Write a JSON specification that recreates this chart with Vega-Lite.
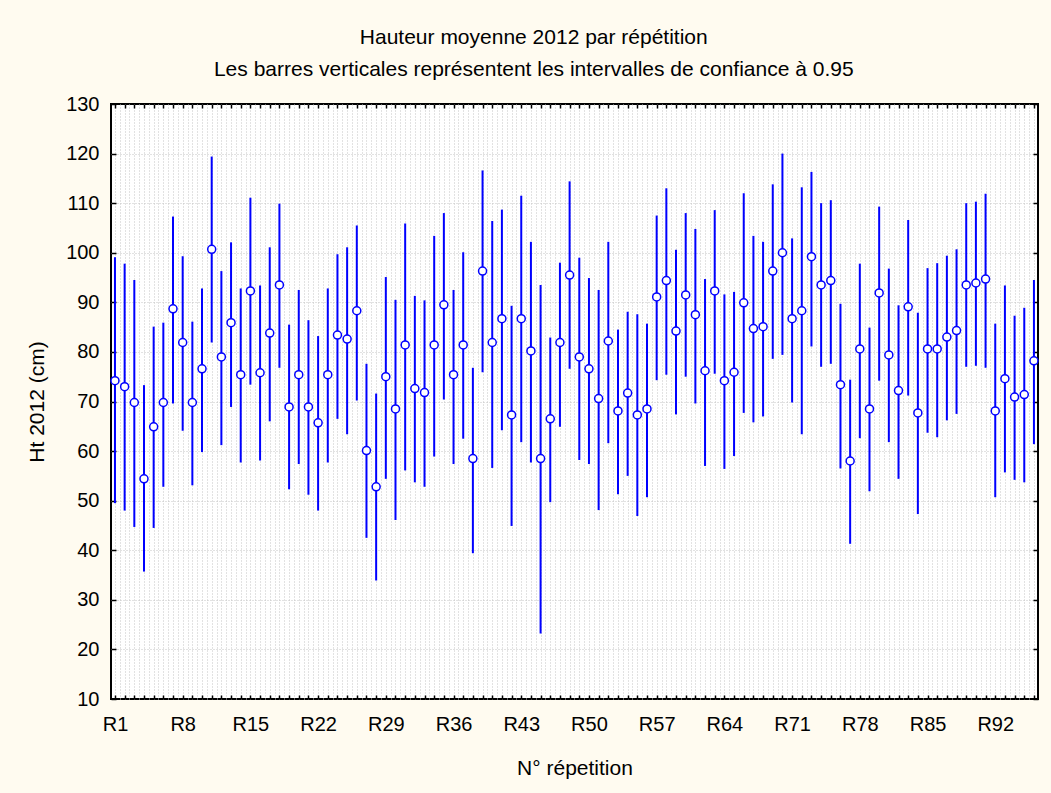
{
  "$schema": "https://vega.github.io/schema/vega-lite/v6.json",
  "width": 927,
  "height": 595,
  "autosize": "none",
  "padding": {"left": 111, "top": 104, "right": 13, "bottom": 94},
  "background": "#fffbf0",
  "title": {
    "text": ["Hauteur moyenne 2012 par répétition", "Les barres verticales représentent les intervalles de confiance à 0.95"],
    "fontSize": 21,
    "fontWeight": "normal",
    "color": "#000000",
    "lineHeight": 32,
    "anchor": "middle",
    "frame": "bounds",
    "offset": 14
  },
  "config": {
    "font": "Liberation Sans",
    "view": {"fill": "white", "stroke": "black", "strokeWidth": 2}
  },
  "data": {
    "values": [
      {"rep": "R1", "i": 1, "m": 74.2, "lo": 49.5, "hi": 99.1},
      {"rep": "R2", "i": 2, "m": 73.0, "lo": 48.0, "hi": 97.8},
      {"rep": "R3", "i": 3, "m": 69.8, "lo": 44.7, "hi": 94.5},
      {"rep": "R4", "i": 4, "m": 54.4, "lo": 35.7, "hi": 73.3},
      {"rep": "R5", "i": 5, "m": 64.9, "lo": 44.5, "hi": 85.1},
      {"rep": "R6", "i": 6, "m": 69.8, "lo": 52.8, "hi": 85.9},
      {"rep": "R7", "i": 7, "m": 88.7, "lo": 69.6, "hi": 107.3},
      {"rep": "R8", "i": 8, "m": 81.9, "lo": 64.1, "hi": 99.3},
      {"rep": "R9", "i": 9, "m": 69.8, "lo": 53.1, "hi": 86.1},
      {"rep": "R10", "i": 10, "m": 76.6, "lo": 59.8, "hi": 92.8},
      {"rep": "R11", "i": 11, "m": 100.7, "lo": 81.9, "hi": 119.4},
      {"rep": "R12", "i": 12, "m": 79.0, "lo": 61.2, "hi": 96.3},
      {"rep": "R13", "i": 13, "m": 85.9, "lo": 68.9, "hi": 102.1},
      {"rep": "R14", "i": 14, "m": 75.4, "lo": 57.7, "hi": 92.8},
      {"rep": "R15", "i": 15, "m": 92.3, "lo": 73.4, "hi": 111.1},
      {"rep": "R16", "i": 16, "m": 75.8, "lo": 58.1, "hi": 93.4},
      {"rep": "R17", "i": 17, "m": 83.8, "lo": 66.0, "hi": 101.1},
      {"rep": "R18", "i": 18, "m": 93.5, "lo": 76.8, "hi": 109.9},
      {"rep": "R19", "i": 19, "m": 68.9, "lo": 52.3, "hi": 85.5},
      {"rep": "R20", "i": 20, "m": 75.4, "lo": 57.4, "hi": 92.5},
      {"rep": "R21", "i": 21, "m": 68.9, "lo": 51.2, "hi": 86.4},
      {"rep": "R22", "i": 22, "m": 65.7, "lo": 48.0, "hi": 83.2},
      {"rep": "R23", "i": 23, "m": 75.4, "lo": 57.7, "hi": 92.8},
      {"rep": "R24", "i": 24, "m": 83.4, "lo": 66.5, "hi": 99.7},
      {"rep": "R25", "i": 25, "m": 82.6, "lo": 63.4, "hi": 101.1},
      {"rep": "R26", "i": 26, "m": 88.3, "lo": 70.2, "hi": 105.5},
      {"rep": "R27", "i": 27, "m": 60.1, "lo": 42.5, "hi": 77.6},
      {"rep": "R28", "i": 28, "m": 52.8, "lo": 33.9, "hi": 71.6},
      {"rep": "R29", "i": 29, "m": 75.0, "lo": 54.4, "hi": 95.1},
      {"rep": "R30", "i": 30, "m": 68.5, "lo": 46.1, "hi": 90.5},
      {"rep": "R31", "i": 31, "m": 81.4, "lo": 56.1, "hi": 105.9},
      {"rep": "R32", "i": 32, "m": 72.6, "lo": 53.7, "hi": 91.3},
      {"rep": "R33", "i": 33, "m": 71.8, "lo": 52.8, "hi": 90.4},
      {"rep": "R34", "i": 34, "m": 81.4, "lo": 58.9, "hi": 103.4},
      {"rep": "R35", "i": 35, "m": 89.5, "lo": 70.4, "hi": 108.0},
      {"rep": "R36", "i": 36, "m": 75.4, "lo": 57.4, "hi": 92.5},
      {"rep": "R37", "i": 37, "m": 81.4, "lo": 62.5, "hi": 100.1},
      {"rep": "R38", "i": 38, "m": 58.5, "lo": 39.4, "hi": 76.8},
      {"rep": "R39", "i": 39, "m": 96.3, "lo": 75.9, "hi": 116.6},
      {"rep": "R40", "i": 40, "m": 81.9, "lo": 56.6, "hi": 106.4},
      {"rep": "R41", "i": 41, "m": 86.7, "lo": 64.2, "hi": 108.7},
      {"rep": "R42", "i": 42, "m": 67.3, "lo": 44.9, "hi": 89.3},
      {"rep": "R43", "i": 43, "m": 86.7, "lo": 61.8, "hi": 111.5},
      {"rep": "R44", "i": 44, "m": 80.2, "lo": 57.7, "hi": 102.2},
      {"rep": "R45", "i": 45, "m": 58.5, "lo": 23.2, "hi": 93.5},
      {"rep": "R46", "i": 46, "m": 66.5, "lo": 49.7, "hi": 82.9},
      {"rep": "R47", "i": 47, "m": 81.9, "lo": 64.9, "hi": 98.0},
      {"rep": "R48", "i": 48, "m": 95.5, "lo": 76.6, "hi": 114.4},
      {"rep": "R49", "i": 49, "m": 79.0, "lo": 58.2, "hi": 99.0},
      {"rep": "R50", "i": 50, "m": 76.6, "lo": 57.4, "hi": 94.9},
      {"rep": "R51", "i": 51, "m": 70.6, "lo": 48.1, "hi": 92.5},
      {"rep": "R52", "i": 52, "m": 82.2, "lo": 61.6, "hi": 102.2},
      {"rep": "R53", "i": 53, "m": 68.1, "lo": 51.3, "hi": 84.5},
      {"rep": "R54", "i": 54, "m": 71.7, "lo": 55.0, "hi": 88.1},
      {"rep": "R55", "i": 55, "m": 67.3, "lo": 46.9, "hi": 87.6},
      {"rep": "R56", "i": 56, "m": 68.5, "lo": 50.7, "hi": 85.7},
      {"rep": "R57", "i": 57, "m": 91.1, "lo": 74.3, "hi": 107.5},
      {"rep": "R58", "i": 58, "m": 94.4, "lo": 75.4, "hi": 113.0},
      {"rep": "R59", "i": 59, "m": 84.2, "lo": 67.4, "hi": 100.6},
      {"rep": "R60", "i": 60, "m": 91.5, "lo": 75.0, "hi": 108.0},
      {"rep": "R61", "i": 61, "m": 87.5, "lo": 69.6, "hi": 104.8},
      {"rep": "R62", "i": 62, "m": 76.2, "lo": 57.0, "hi": 94.7},
      {"rep": "R63", "i": 63, "m": 92.3, "lo": 75.6, "hi": 108.6},
      {"rep": "R64", "i": 64, "m": 74.2, "lo": 56.4, "hi": 91.6},
      {"rep": "R65", "i": 65, "m": 75.9, "lo": 59.0, "hi": 92.1},
      {"rep": "R66", "i": 66, "m": 89.9, "lo": 67.7, "hi": 112.0},
      {"rep": "R67", "i": 67, "m": 84.7, "lo": 65.8, "hi": 103.4},
      {"rep": "R68", "i": 68, "m": 85.1, "lo": 67.0, "hi": 102.2},
      {"rep": "R69", "i": 69, "m": 96.3, "lo": 78.6, "hi": 113.8},
      {"rep": "R70", "i": 70, "m": 100.0, "lo": 79.4, "hi": 120.0},
      {"rep": "R71", "i": 71, "m": 86.7, "lo": 69.8, "hi": 102.9},
      {"rep": "R72", "i": 72, "m": 88.3, "lo": 63.4, "hi": 113.2},
      {"rep": "R73", "i": 73, "m": 99.2, "lo": 81.1, "hi": 116.3},
      {"rep": "R74", "i": 74, "m": 93.5, "lo": 77.0, "hi": 110.0},
      {"rep": "R75", "i": 75, "m": 94.4, "lo": 77.6, "hi": 110.6},
      {"rep": "R76", "i": 76, "m": 73.4, "lo": 56.5, "hi": 89.7},
      {"rep": "R77", "i": 77, "m": 58.0, "lo": 41.3, "hi": 74.4},
      {"rep": "R78", "i": 78, "m": 80.6, "lo": 62.6, "hi": 97.8},
      {"rep": "R79", "i": 79, "m": 68.5, "lo": 51.9, "hi": 84.9},
      {"rep": "R80", "i": 80, "m": 91.9, "lo": 74.2, "hi": 109.3},
      {"rep": "R81", "i": 81, "m": 79.4, "lo": 61.8, "hi": 96.8},
      {"rep": "R82", "i": 82, "m": 72.2, "lo": 54.4, "hi": 89.4},
      {"rep": "R83", "i": 83, "m": 89.1, "lo": 71.2, "hi": 106.6},
      {"rep": "R84", "i": 84, "m": 67.7, "lo": 47.3, "hi": 87.9},
      {"rep": "R85", "i": 85, "m": 80.6, "lo": 63.7, "hi": 96.9},
      {"rep": "R86", "i": 86, "m": 80.6, "lo": 62.8, "hi": 97.9},
      {"rep": "R87", "i": 87, "m": 83.0, "lo": 66.2, "hi": 99.4},
      {"rep": "R88", "i": 88, "m": 84.3, "lo": 67.5, "hi": 100.7},
      {"rep": "R89", "i": 89, "m": 93.5, "lo": 77.0, "hi": 110.0},
      {"rep": "R90", "i": 90, "m": 93.9, "lo": 77.2, "hi": 110.3},
      {"rep": "R91", "i": 91, "m": 94.7, "lo": 76.8, "hi": 111.9},
      {"rep": "R92", "i": 92, "m": 68.1, "lo": 50.7, "hi": 85.7},
      {"rep": "R93", "i": 93, "m": 74.6, "lo": 55.7, "hi": 93.4},
      {"rep": "R94", "i": 94, "m": 70.9, "lo": 54.2, "hi": 87.3},
      {"rep": "R95", "i": 95, "m": 71.4, "lo": 53.7, "hi": 88.9},
      {"rep": "R96", "i": 96, "m": 78.2, "lo": 61.4, "hi": 94.5}
    ]
  },
  "layer": [
    {
      "mark": {"type": "rule", "color": "#0000ff", "strokeWidth": 2},
      "encoding": {
        "x": {
          "field": "i", "type": "quantitative",
          "scale": {"domain": [0.59, 96.42], "nice": false, "zero": false},
          "axis": {
            "orient": "bottom",
            "title": "N° répetition",
            "titleFontSize": 21,
            "titleFontWeight": "normal",
            "titleColor": "#000000",
            "titlePadding": 23,
            "tickCount": 190,
            "domain": false,
            "grid": true,
            "gridColor": "#c4c4c4",
            "gridDash": [1, 2],
            "gridWidth": 1,
            "ticks": true,
            "tickSize": -4,
            "tickWidth": 1.5,
            "tickColor": "#000000",
            "tickOpacity": {"condition": {"test": "datum.value % 1 === 0", "value": 1}, "value": 0},
            "labelExpr": "datum.value % 7 === 1 ? 'R' + datum.value : ''",
            "labelFontSize": 20,
            "labelColor": "#000000",
            "labelPadding": 19,
            "labelOverlap": false,
            "labelFlush": false
          }
        },
        "y": {
          "field": "lo", "type": "quantitative",
          "scale": {"domain": [10, 130], "nice": false, "zero": false},
          "axis": {
            "orient": "left",
            "title": "Ht 2012 (cm)",
            "titleFontSize": 21,
            "titleFontWeight": "normal",
            "titleColor": "#000000",
            "titlePadding": 18,
            "tickCount": 12,
            "domain": false,
            "grid": true,
            "gridColor": "#c4c4c4",
            "gridDash": [1, 2],
            "gridWidth": 1,
            "gridOpacity": {"condition": {"test": "datum.value > 10 && datum.value < 130", "value": 1}, "value": 0},
            "ticks": true,
            "tickSize": -5,
            "tickWidth": 1.5,
            "tickColor": "#000000",
            "labelFontSize": 20,
            "labelColor": "#000000",
            "labelPadding": 17,
            "labelOverlap": false,
            "labelFlush": false
          }
        },
        "y2": {"field": "hi"}
      }
    },
    {
      "mark": {"type": "point", "shape": "circle", "filled": true, "fill": "#ffffff", "stroke": "#0000ff", "strokeWidth": 1.5, "size": 64, "opacity": 1},
      "encoding": {
        "x": {
          "field": "i", "type": "quantitative",
          "scale": {"domain": [0.59, 96.42], "nice": false, "zero": false},
          "axis": {
            "orient": "top",
            "title": null,
            "tickCount": 96,
            "domain": false,
            "grid": false,
            "labels": false,
            "ticks": true,
            "tickSize": -4,
            "tickWidth": 1.5,
            "tickColor": "#000000"
          }
        },
        "y": {
          "field": "m", "type": "quantitative",
          "scale": {"domain": [10, 130], "nice": false, "zero": false},
          "axis": {
            "orient": "right",
            "title": null,
            "tickCount": 12,
            "domain": false,
            "grid": false,
            "labels": false,
            "ticks": true,
            "tickSize": -5,
            "tickWidth": 1.5,
            "tickColor": "#000000"
          }
        }
      }
    }
  ],
  "resolve": {"axis": {"x": "independent", "y": "independent"}}
}
